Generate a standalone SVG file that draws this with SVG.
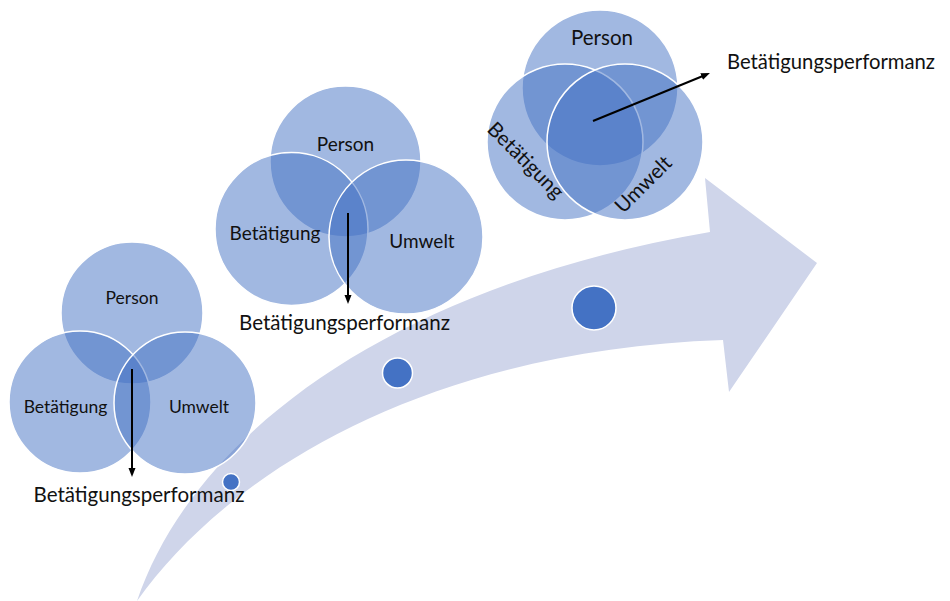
<svg xmlns="http://www.w3.org/2000/svg" width="950" height="601" viewBox="0 0 950 601">
  <style>
    .set { fill: #4472C4; fill-opacity: 0.5; stroke: #FFFFFF; stroke-width: 1.5; }
    .dot { fill: #4472C4; stroke: #FFFFFF; stroke-width: 1.5; }
    .lbl { font-family: Lato, "Liberation Sans", Arial, sans-serif; fill: #111111; text-anchor: middle; }
    .s1 { font-size: 17.5px; }
    .s2 { font-size: 19px; }
    .s3 { font-size: 20.5px; }
    .perf { font-size: 21.5px; }
    .link { stroke: #000000; stroke-width: 2; fill: none; marker-end: url(#head); }
  </style>
  <defs>
    <marker id="head" markerUnits="userSpaceOnUse" markerWidth="10" markerHeight="8" refX="2" refY="3.5" orient="auto">
      <path d="M0,0 L9,3.5 L0,7 Z" fill="#000000"/>
    </marker>
  </defs>

  <rect width="950" height="601" fill="#FFFFFF"/>

  <!-- curved progress arrow in the background -->
  <g id="progress-arrow">
    <path d="M137,601 C195,430 400,285 710,232 L705,178 L817,263 L729,392 L723,340 C430,350 230,470 137,601 Z" fill="#CFD5EA"/>
  </g>

  <!-- stage markers on the arrow -->
  <g id="stage-dot-1"><circle class="dot" cx="231" cy="482" r="8.5"/></g>
  <g id="stage-dot-2"><circle class="dot" cx="397.5" cy="373" r="15"/></g>
  <g id="stage-dot-3"><circle class="dot" cx="594" cy="308" r="22"/></g>

  <!-- stage 1: loosely overlapping -->
  <g id="venn-1">
    <g id="venn-1-person"><circle class="set" cx="132" cy="313" r="71"/></g>
    <g id="venn-1-betaetigung"><circle class="set" cx="80" cy="402" r="71"/></g>
    <g id="venn-1-umwelt"><circle class="set" cx="185" cy="403" r="71"/></g>
    <text class="lbl s1" x="132" y="304">Person</text>
    <text class="lbl s1" x="65.5" y="413">Betätigung</text>
    <text class="lbl s1" x="199" y="413">Umwelt</text>
    <text class="lbl perf" x="139" y="502" textLength="211" lengthAdjust="spacingAndGlyphs">Betätigungsperformanz</text>
  </g>

  <!-- stage 2: more overlap -->
  <g id="venn-2">
    <g id="venn-2-person"><circle class="set" cx="345.5" cy="161.5" r="75.5"/></g>
    <g id="venn-2-betaetigung"><circle class="set" cx="291.5" cy="229" r="76.5"/></g>
    <g id="venn-2-umwelt"><circle class="set" cx="406" cy="237" r="77"/></g>
    <text class="lbl s2" x="345.5" y="151">Person</text>
    <text class="lbl s2" x="275" y="240">Betätigung</text>
    <text class="lbl s2" x="422" y="248">Umwelt</text>
    <text class="lbl perf" x="344.5" y="330" textLength="211" lengthAdjust="spacingAndGlyphs">Betätigungsperformanz</text>
  </g>

  <!-- stage 3: strongly overlapping -->
  <g id="venn-3">
    <g id="venn-3-person"><circle class="set" cx="600" cy="88" r="78"/></g>
    <g id="venn-3-betaetigung"><circle class="set" cx="565" cy="142" r="78"/></g>
    <g id="venn-3-umwelt"><circle class="set" cx="625" cy="142" r="78"/></g>
    <text class="lbl s3" x="602" y="45">Person</text>
    <text class="lbl s3" transform="translate(525,161) rotate(45)" x="0" y="6">Betätigung</text>
    <text class="lbl s3" transform="translate(644,185) rotate(-45)" x="0" y="6">Umwelt</text>
    <text class="lbl perf" x="831" y="69" textLength="208" lengthAdjust="spacingAndGlyphs">Betätigungsperformanz</text>
  </g>

  <!-- performance arrows -->
  <g id="connectors">
    <line class="link" x1="132" y1="369" x2="132" y2="470"/>
    <line class="link" x1="348" y1="213" x2="348" y2="297"/>
    <line class="link" x1="593" y1="121" x2="703.5" y2="75.7"/>
  </g>
</svg>
